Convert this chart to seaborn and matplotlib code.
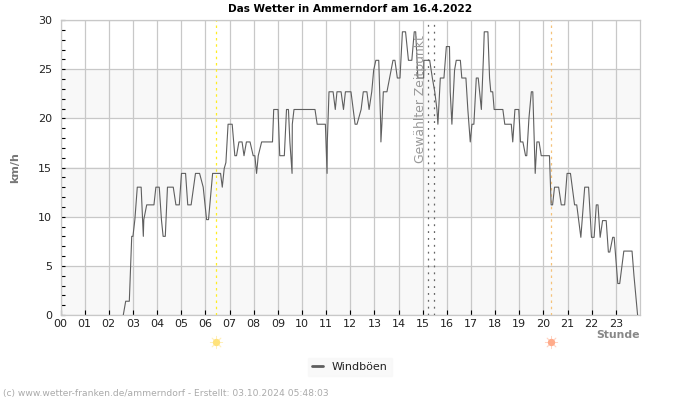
import matplotlib
matplotlib.use("Agg")
import matplotlib.pyplot as plt
import numpy as np
import pandas as pd
import seaborn as sns

TITLE = "Das Wetter in Ammerndorf am 16.4.2022"
hour_labels = [f"{h:02d}" for h in range(24)]
y_ticks = [0, 5, 10, 15, 20, 25, 30]
sunrise = 6.45
sunset = 20.3
selected = [15.22, 15.47]

# gust curve, hour and km/h at each corner
hours = [
    2.6, 2.7, 2.85, 2.95, 3.0, 3.08, 3.18, 3.34, 3.43, 3.45, 3.57, 3.87, 3.95, 4.09, 4.18, 4.25, 4.34, 4.43,
    4.67, 4.78, 4.92, 5.01, 5.18, 5.27, 5.41, 5.59, 5.76, 5.91, 6.05, 6.13, 6.3, 6.63, 6.7, 6.78,
    6.85, 6.94, 7.11, 7.22, 7.29, 7.39, 7.52, 7.6, 7.7, 7.85,
    7.98, 8.05, 8.12, 8.19, 8.33, 8.78, 8.83, 9.01, 9.08, 9.27, 9.36, 9.44, 9.5, 9.59, 9.6, 9.67,
    10.54, 10.63, 10.97, 11.04, 11.05, 11.12, 11.29, 11.38, 11.45, 11.62, 11.72, 11.8, 12.03, 12.2, 12.28,
    12.45, 12.54, 12.69, 12.78, 12.89, 12.97, 13.06, 13.18, 13.26, 13.27, 13.31, 13.37, 13.52, 13.63,
    13.77, 13.85, 13.95, 14.06, 14.16, 14.29, 14.41, 14.55, 14.65, 14.71, 14.8, 15.04, 15.05, 15.29,
    15.4, 15.5, 15.59, 15.63, 15.73, 15.88, 15.98, 16.11, 16.14, 16.21, 16.25, 16.32, 16.39, 16.56,
    16.62, 16.79, 16.87, 16.97, 17.04, 17.12, 17.22, 17.3, 17.43, 17.52, 17.55, 17.7, 17.77, 17.82,
    17.9, 17.96, 18.32, 18.4, 18.67, 18.73, 18.82, 18.98, 19.05, 19.15, 19.26, 19.31, 19.4, 19.5, 19.56,
    19.66, 19.73, 19.82, 19.91, 20.25, 20.32, 20.38, 20.46, 20.63, 20.74, 20.88, 20.98, 21.12, 21.29,
    21.38, 21.55, 21.71, 21.87, 21.99, 22.1, 22.19, 22.26, 22.35, 22.45, 22.6, 22.69, 22.75, 22.87,
    22.93, 23.08, 23.16, 23.33, 23.67, 23.75, 23.9,
]
gusts = [
    0, 1.4, 1.4, 8, 8, 9.7, 13, 13, 8, 9.7, 11.2, 11.2, 13, 13, 9.7, 8, 8, 13,
    13, 11.2, 11.2, 14.4, 14.4, 11.2, 11.2, 14.4, 14.4, 13, 9.7, 9.7, 14.4, 14.4, 13, 14.9,
    15.5, 19.4, 19.4, 16.2, 16.2, 17.6, 17.6, 16.2, 17.6, 17.6,
    16.2, 16.2, 14.4, 16.2, 17.6, 17.6, 20.9, 20.9, 16.2, 16.2, 20.9, 20.9, 17.6, 14.4, 19.4, 20.9,
    20.9, 19.4, 19.4, 14.4, 17.6, 22.7, 22.7, 20.9, 22.7, 22.7, 20.9, 22.7, 22.7, 19.4, 19.4,
    20.9, 22.7, 22.7, 20.9, 22.7, 24.9, 25.9, 25.9, 19.4, 17.6, 19.4, 22.7, 22.7, 24.1,
    25.9, 25.9, 24.1, 24.1, 28.8, 28.8, 25.9, 25.9, 28.8, 28.8, 24.1, 24.1, 25.9, 25.9,
    24.1, 22.7, 20.9, 19.4, 24.1, 24.1, 27.3, 27.3, 22.7, 19.4, 21.5, 24.9, 25.9, 25.9,
    24.1, 24.1, 20.9, 17.6, 19.4, 19.4, 24.1, 24.1, 20.9, 26.5, 28.8, 28.8, 24.1, 22.7,
    22.7, 20.9, 20.9, 19.4, 19.4, 17.6, 20.9, 20.9, 17.6, 17.6, 16.2, 16.2, 20.0, 22.7, 22.7,
    14.4, 17.6, 17.6, 16.2, 16.2, 11.2, 11.2, 13, 13, 11.2, 11.2, 14.4, 14.4, 11.2,
    11.2, 7.9, 13, 13, 7.9, 7.9, 11.2, 11.2, 7.9, 9.6, 9.6, 6.4, 6.4, 7.9,
    7.9, 3.2, 3.2, 6.5, 6.5, 4.0, 0,
]

df = pd.DataFrame({"Stunde": hours, "Windböen": gusts})

sns.set_theme(style="white", rc={"font.family": ["DejaVu Sans"], "font.size": 8})
fig = plt.figure(figsize=(7, 4), dpi=100)
ax = fig.add_axes([60.5 / 700, 1 - 315 / 400, 579.5 / 700, 295 / 400])

sns.lineplot(data=df, x="Stunde", y="Windböen", ax=ax, color="#5f5f5f", linewidth=0.8,
             label="Windböen", legend=False, zorder=5, errorbar=None)

ax.set_xlim(0, 24)
ax.set_ylim(0, 30)

# alternating bands
for low in [0, 10, 20]:
    ax.axhspan(low, low + 5, color="#f8f8f8", zorder=0, linewidth=0)

ax.set_xticks(range(24))
ax.set_xticklabels(hour_labels, fontsize=8, color="#222222")
ax.set_yticks(y_ticks)
ax.set_yticklabels(y_ticks, fontsize=8, color="#222222")
ax.set_yticks(range(31), minor=True)
ax.grid(True, which="major", color="#c8c8c8", linewidth=0.9, zorder=1)
ax.set_axisbelow(True)
ax.tick_params(axis="x", which="major", direction="in", length=3.5, width=0.8, color="black", pad=3, bottom=True)
ax.tick_params(axis="y", which="major", direction="in", length=3, width=0.8, color="black", pad=6, left=True)
ax.tick_params(axis="y", which="minor", direction="in", length=3, width=0.8, color="black", left=True)
for side, spine in ax.spines.items():
    spine.set_color("#c8c8c8")
    spine.set_linewidth(0.9)

ax.axvline(sunrise, color="#ffee22", linestyle=(0, (2, 3)), linewidth=0.9, zorder=2)
ax.axvline(sunset, color="#f5c27a", linestyle=(0, (2, 3)), linewidth=0.9, zorder=2)
for pos in selected:
    ax.axvline(pos, color="#666666", linestyle=(0, (1.5, 4)), linewidth=0.9, zorder=3)

ax.text(14.9, 22.0, "Gewählter Zeitpunkt", rotation=90, ha="center", va="center",
        fontsize=8.9, color="#999999", zorder=6)

# sun symbols under the axis
trans = ax.get_xaxis_transform()
for pos, col in [(sunrise, "#ffe27a"), (sunset, "#ffab8a")]:
    ax.scatter([pos], [-0.09], transform=trans, clip_on=False, s=28, marker="o", color=col, linewidths=0, zorder=7)
    ax.scatter([pos], [-0.09], transform=trans, clip_on=False, s=80, marker=(8, 2, 0), color=col, linewidths=0.6, alpha=0.5, zorder=7)

ax.set_xlabel("")
ax.set_ylabel("km/h", fontsize=8, fontweight="bold", color="#777777", labelpad=13)
fig.text(1 - 60 / 700, 1 - 335 / 400, "Stunde", fontsize=7.8, fontweight="bold", color="#888888", ha="right", va="center")
fig.text(350 / 700, 1 - 8.5 / 400, TITLE, fontsize=7.6, fontweight="bold", color="black", ha="center", va="center")
fig.text(3 / 700, 1 - 393.5 / 400, "(c) www.wetter-franken.de/ammerndorf - Erstellt: 03.10.2024 05:48:03",
         fontsize=6.6, color="#aaaaaa", ha="left", va="center")

handles, labels = ax.get_legend_handles_labels()
leg = fig.legend(handles, labels, loc="center", bbox_to_anchor=(350 / 700, 1 - 367 / 400), frameon=True,
                 fontsize=8, facecolor="#f8f8f8", edgecolor="#f8f8f8", fancybox=False, handlelength=1,
                 labelcolor="#222222", borderpad=0.4)
for line in leg.get_lines():
    line.set_linewidth(2)

fig.savefig("out.png", dpi=100)
plt.close(fig)
